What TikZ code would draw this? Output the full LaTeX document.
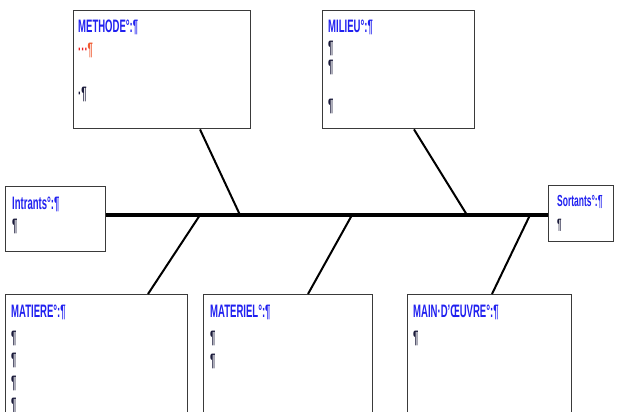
\documentclass[tikz,border=0pt]{standalone}
\usepackage{fontspec}
\usetikzlibrary{calc}
\newfontfamily\nf{Liberation Sans}[FakeStretch=0.53]
\definecolor{boxgray}{HTML}{3A3A3A}
\definecolor{ttlblue}{HTML}{2020F0}
\definecolor{pilc}{HTML}{1A1A3A}
\definecolor{dotred}{HTML}{F02020}
\definecolor{pilred}{HTML}{F05A30}
\begin{document}
\begin{tikzpicture}[x=1pt,y=-1pt,
  box/.style={draw=boxgray, line width=1.4pt, inner sep=0pt, anchor=north west},
  ttl/.style={anchor=base west, inner sep=0pt, text=ttlblue, font=\nf\bfseries\fontsize{18}{20}\selectfont},
  pil/.style={anchor=base west, inner sep=0pt, text=pilc, font=\nf\bfseries\fontsize{18}{20}\selectfont},
  bone/.style={line width=2pt, draw=black},
  spine/.style={line width=3.5pt, draw=black}]
\clip (0,0) rectangle (618,412);
\fill[white] (0,0) rectangle (618,412);
% boxes
\node[box, minimum width=177pt, minimum height=118pt] (methode) at (73,10) {};
\node[box, minimum width=152pt, minimum height=118pt] (milieu) at (322,10) {};
\node[box, minimum width=100pt, minimum height=65pt] (intrants) at (5,186) {};
\node[box, minimum width=65pt, minimum height=56pt] (sortants) at (548,185) {};
\node[box, minimum width=182pt, minimum height=130pt] (matiere) at (5,294) {};
\node[box, minimum width=169pt, minimum height=130pt] (materiel) at (203,294) {};
\node[box, minimum width=164pt, minimum height=130pt] (maindo) at (407,294) {};
% spine
\coordinate (lvl) at (0,215);
\draw[spine] (intrants.east |- lvl) -- (sortants.west |- lvl);
% junctions on spine
\coordinate (jmet) at (240,215);
\coordinate (jmil) at (467,215);
\coordinate (jmat) at (200,215);
\coordinate (jmtl) at (352,215);
\coordinate (jmo) at (530,215);
\draw[bone] ($(methode.south west)+(127,0)$) -- (jmet);
\draw[bone] ($(milieu.south west)+(92,0)$) -- (jmil);
\draw[bone] ($(matiere.north west)+(143,0)$) -- (jmat);
\draw[bone] ($(materiel.north west)+(105,0)$) -- (jmtl);
\draw[bone] ($(maindo.north west)+(85,0)$) -- (jmo);
% texts
\node[ttl] (tmet) at (78,33) {METHODE°:¶};
\node[pil] (tmet1) at (78,56) {\textcolor{dotred}{···}\textcolor{pilred}{¶}};
\node[pil] (tmet2) at (78,99) {·¶};
\node[ttl] (tmil) at (328,33) {MILIEU°:¶};
\node[pil] (tmil1) at (328,54) {¶};
\node[pil] (tmil2) at (328,73) {¶};
\node[pil] (tmil3) at (328,111) {¶};
\node[ttl] (tint) at (12,209) {Intrants°:¶};
\node[pil] (tint1) at (12,231) {¶};
\node[ttl, font=\nf\bfseries\fontsize{16}{18}\selectfont] (tsor) at (557,206) {Sortants°:¶};
\node[pil, font=\nf\bfseries\fontsize{15}{17}\selectfont] (tsor1) at (557,229) {¶};
\node[ttl] (tmat) at (11,317) {MATIERE°:¶};
\node[pil] (tmat1) at (11,343) {¶};
\node[pil] (tmat2) at (11,365) {¶};
\node[pil] (tmat3) at (11,388) {¶};
\node[pil] (tmat4) at (11,410) {¶};
\node[ttl] (tmtl) at (210,317) {MATERIEL°:¶};
\node[pil] (tmtl1) at (210,343) {¶};
\node[pil] (tmtl2) at (210,366) {¶};
\node[ttl] (tmo) at (413,317) {MAIN·D’ŒUVRE°:¶};
\node[pil] (tmo1) at (413,343) {¶};
\end{tikzpicture}
\end{document}
